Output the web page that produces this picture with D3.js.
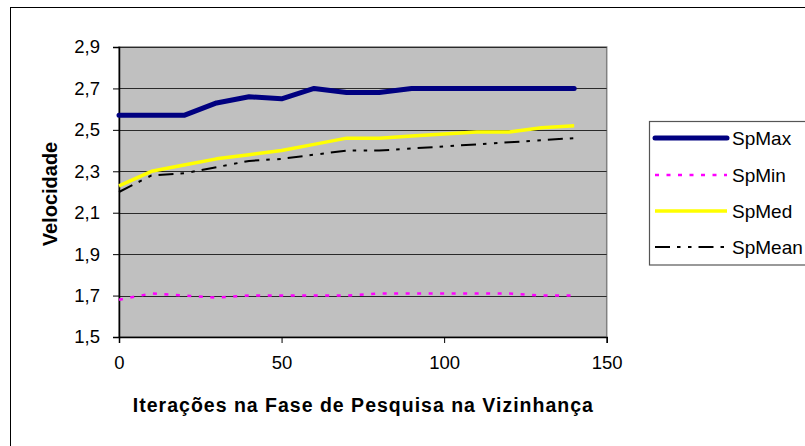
<!DOCTYPE html>
<html>
<head>
<meta charset="utf-8">
<script src="https://cdn.jsdelivr.net/npm/d3@7"></script>
<style>
  html, body { margin: 0; padding: 0; background: #fff; }
  svg { display: block; font-family: "Liberation Sans", Arial, sans-serif; }
</style>
</head>
<body>
<svg id="chart" width="805" height="446"></svg>
<script>
// ---- data ----
const iterations = [0, 10, 20, 30, 40, 50, 60, 70, 80, 90, 100, 110, 120, 130, 140];
const spMax  = [2.57, 2.57, 2.57, 2.63, 2.66, 2.65, 2.70, 2.68, 2.68, 2.70, 2.70, 2.70, 2.70, 2.70, 2.70];
const spMin  = [1.68, 1.71, 1.70, 1.69, 1.70, 1.70, 1.70, 1.70, 1.71, 1.71, 1.71, 1.71, 1.71, 1.70, 1.70];
const spMed  = [2.23, 2.30, 2.33, 2.36, 2.38, 2.40, 2.43, 2.46, 2.46, 2.47, 2.48, 2.49, 2.49, 2.51, 2.52];
const spMean = [2.20, 2.28, 2.29, 2.32, 2.35, 2.36, 2.38, 2.40, 2.40, 2.41, 2.42, 2.43, 2.44, 2.45, 2.46];
const seriesNames = ["SpMax", "SpMin", "SpMed", "SpMean"];
const xTicks = [0, 50, 100, 150];
const yTicks = [1.5, 1.7, 1.9, 2.1, 2.3, 2.5, 2.7, 2.9];
const xTitle = "Iterações na Fase de Pesquisa na Vizinhança";
const yTitle = "Velocidade";

const seriesValues = [spMax, spMin, spMed, spMean];
const styles = [
  { color: "#000080", width: 5,   dash: null },
  { color: "#FF00FF", width: 2.5, dash: "4,7.5" },
  { color: "#FFFF00", width: 3.5, dash: null },
  { color: "#000000", width: 2,   dash: "15,7,3.5,7.5,3.5,7" }
];

const svg = d3.select("#chart");
const plot = { left: 119, right: 606.7, top: 47, bottom: 337 };

const x = d3.scaleLinear().domain([0, 150]).range([plot.left, plot.right]);
const y = d3.scaleLinear().domain([1.5, 2.9]).range([plot.bottom, plot.top]);

// outer chart border
svg.append("rect")
  .attr("x", 10.5).attr("y", 7.5).attr("width", 900).attr("height", 600)
  .attr("fill", "#fff").attr("stroke", "#000").attr("stroke-width", 1);

// plot area
svg.append("rect")
  .attr("x", plot.left).attr("y", plot.top)
  .attr("width", plot.right - plot.left).attr("height", plot.bottom - plot.top)
  .attr("fill", "#C0C0C0").attr("stroke", "#808080").attr("stroke-width", 1.5);

// gridlines
svg.append("g").selectAll("line")
  .data(yTicks.filter(d => d > 1.5))
  .join("line")
  .attr("x1", plot.left).attr("x2", plot.right)
  .attr("y1", d => Math.round(y(d)) + 0.5).attr("y2", d => Math.round(y(d)) + 0.5)
  .attr("stroke", "#2a2a2a").attr("stroke-width", 1);

// axes
const fmt = d => d3.format(".1f")(d).replace(".", ",");
const yAxis = svg.append("g")
  .attr("transform", `translate(${plot.left},0)`)
  .call(d3.axisLeft(y).tickValues(yTicks).tickFormat(fmt).tickSize(6).tickPadding(13));
const xAxis = svg.append("g")
  .attr("transform", `translate(0,${plot.bottom})`)
  .call(d3.axisBottom(x).tickValues(xTicks).tickFormat(d3.format("d")).tickSize(6).tickPadding(13));

[yAxis, xAxis].forEach(g => {
  g.select(".domain").attr("stroke", "#000").attr("stroke-width", 1.5);
  g.selectAll(".tick line").attr("stroke", "#000").attr("stroke-width", 1);
  g.selectAll(".tick text")
    .attr("fill", "#000")
    .style("font-family", '"Liberation Sans", Arial, sans-serif')
    .style("font-size", "18.5px");
});

// series lines
const line = d3.line()
  .x((d, i) => x(iterations[i]))
  .y(d => y(d));

seriesValues.forEach((vals, k) => {
  const s = styles[k];
  svg.append("path")
    .datum(vals)
    .attr("d", line)
    .attr("fill", "none")
    .attr("stroke", s.color)
    .attr("stroke-width", s.width)
    .attr("stroke-linecap", k === 0 ? "round" : "butt")
    .attr("stroke-linejoin", "round")
    .attr("stroke-dasharray", s.dash);
});

// axis titles
svg.append("text")
  .attr("x", (plot.left + plot.right) / 2).attr("y", 412)
  .attr("text-anchor", "middle")
  .attr("textLength", 460).attr("lengthAdjust", "spacing")
  .style("font-weight", "bold").style("font-size", "19.5px")
  .text(xTitle);

svg.append("text")
  .attr("transform", `translate(57,194) rotate(-90)`)
  .attr("text-anchor", "middle")
  .style("font-weight", "bold").style("font-size", "20px")
  .text(yTitle);

// legend
const legend = svg.append("g");
legend.append("rect")
  .attr("x", 649.5).attr("y", 121.5).attr("width", 300).attr("height", 143.5)
  .attr("fill", "#fff").attr("stroke", "#555").attr("stroke-width", 1.2);
const rowsY = [138, 175, 211, 247];
seriesNames.forEach((name, k) => {
  const s = styles[k];
  legend.append("line")
    .attr("x1", 655).attr("x2", 727)
    .attr("y1", rowsY[k]).attr("y2", rowsY[k])
    .attr("stroke", s.color).attr("stroke-width", s.width)
    .attr("stroke-linecap", k === 0 ? "round" : "butt")
    .attr("stroke-dasharray", s.dash);
  legend.append("text")
    .attr("x", 732).attr("y", rowsY[k]).attr("dy", "0.35em")
    .style("font-size", "19px")
    .text(name);
});
</script>
</body>
</html>
